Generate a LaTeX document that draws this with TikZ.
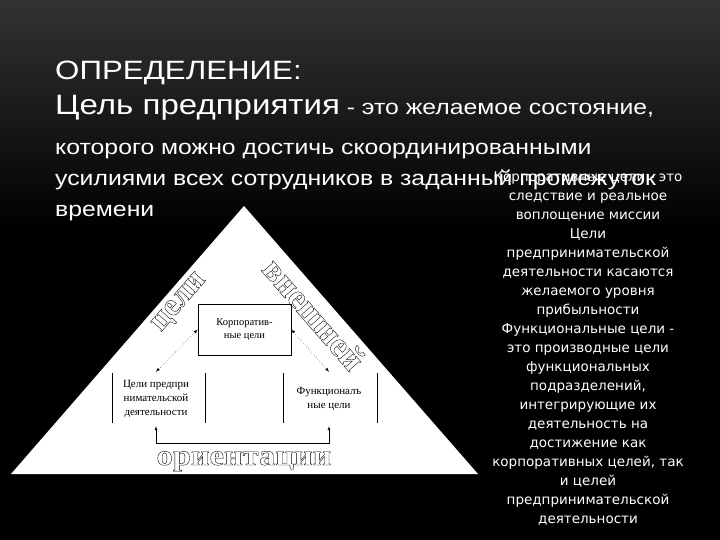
\documentclass[tikz,border=0pt]{standalone}
\usepackage{fontspec}
\setmainfont{Liberation Serif}
\newfontfamily\headfont{Liberation Sans}
\newfontfamily\notefont{DejaVu Sans}
\usetikzlibrary{calc}

% hollow letters for the pyramid labels
\newcommand{\hollow}[1]{\special{pdf:literal direct 1 Tr 0.35 w}#1\special{pdf:literal direct 0 Tr}}

\tikzset{
  headline/.style={anchor=base west, text=white, inner sep=0pt, xscale=1.18, font=\headfont\fontsize{21}{24}\selectfont},
  pyrtext/.style={align=center, inner sep=0pt, minimum height=54pt, font=\fontsize{11}{14}\selectfont},
  pyrlabel/.style={text=black, inner sep=0pt, font=\bfseries\fontsize{32}{32}\selectfont},
  link/.style={dotted, thin, latex-latex},
}

\begin{document}
\begin{tikzpicture}[x=1pt, y=-1pt]
    \useasboundingbox (0,0) rectangle (720,540);
    \fill[black] (0,0) rectangle (720,540);
    \shade[top color=black!80, bottom color=black] (0,0) rectangle (720,230);

    % heading
    \node[headline, font=\headfont\fontsize{26.5}{30}\selectfont] (title) at (55,80) {ОПРЕДЕЛЕНИЕ:};
    \node[headline] (def0) at (55,115) {{\fontsize{28}{30}\selectfont Цель предприятия} - это желаемое состояние,};
    \node[headline] (def1) at (55,155) {которого можно достичь скоординированными};
    \node[headline] (def2) at (55,186) {усилиями всех сотрудников в заданный промежуток};
    \node[headline] (def3) at (55,217) {времени};

    % pyramid
    \fill[white] (11,474) -- (244,206) -- (478,474) -- cycle;
    \foreach \x in {112,205,283,377}
        \draw[thin] (\x,373) -- (\x,423);

    \node[draw, line width=0.8pt, align=center, inner sep=0pt, minimum width=93pt, minimum height=51pt,
          font=\fontsize{10.5}{13}\selectfont] (corp) at (244.5,329.5) {Корпоратив-\\ные цели};
    \node[pyrtext] (entr) at (156,399) {Цели предпри\\нимательской\\деятельности};
    \node[pyrtext] (func) at (329,399) {Функционалъ\\ные цели};

    \draw[link] (entr.north) -- (corp.west);
    \draw[link] (corp.east) -- (func.north);
    \draw[thin, latex-latex] (entr.south) -- ++(0,17) -| (func.south);

    \node[pyrlabel, rotate=49] (goals) at (180,303) {\hollow{цели}};
    \node[pyrlabel, rotate=-49, font=\bfseries\fontsize{34}{34}\selectfont] (outer) at (314,314) {\hollow{внешней}};
    \node[pyrlabel, anchor=base, xscale=1.12, font=\bfseries\fontsize{29}{29}\selectfont] (orient) at (244,465) {\hollow{ориентации}};

    % notes on the right
    \node[anchor=north, align=center, inner sep=0pt, text=white,
          font=\notefont\fontsize{13.5}{19}\selectfont] (notes) at (588,171)
        {Корпоративные цели - это\\следствие и реальное\\воплощение миссии\\Цели\\предпринимательской\\деятельности касаются\\желаемого уровня\\прибыльности\\Функциональные цели -\\это производные цели\\функциональных\\подразделений,\\интегрирующие их\\деятельность на\\достижение как\\корпоративных целей, так\\и целей\\предпринимательской\\деятельности};
\end{tikzpicture}
\end{document}
